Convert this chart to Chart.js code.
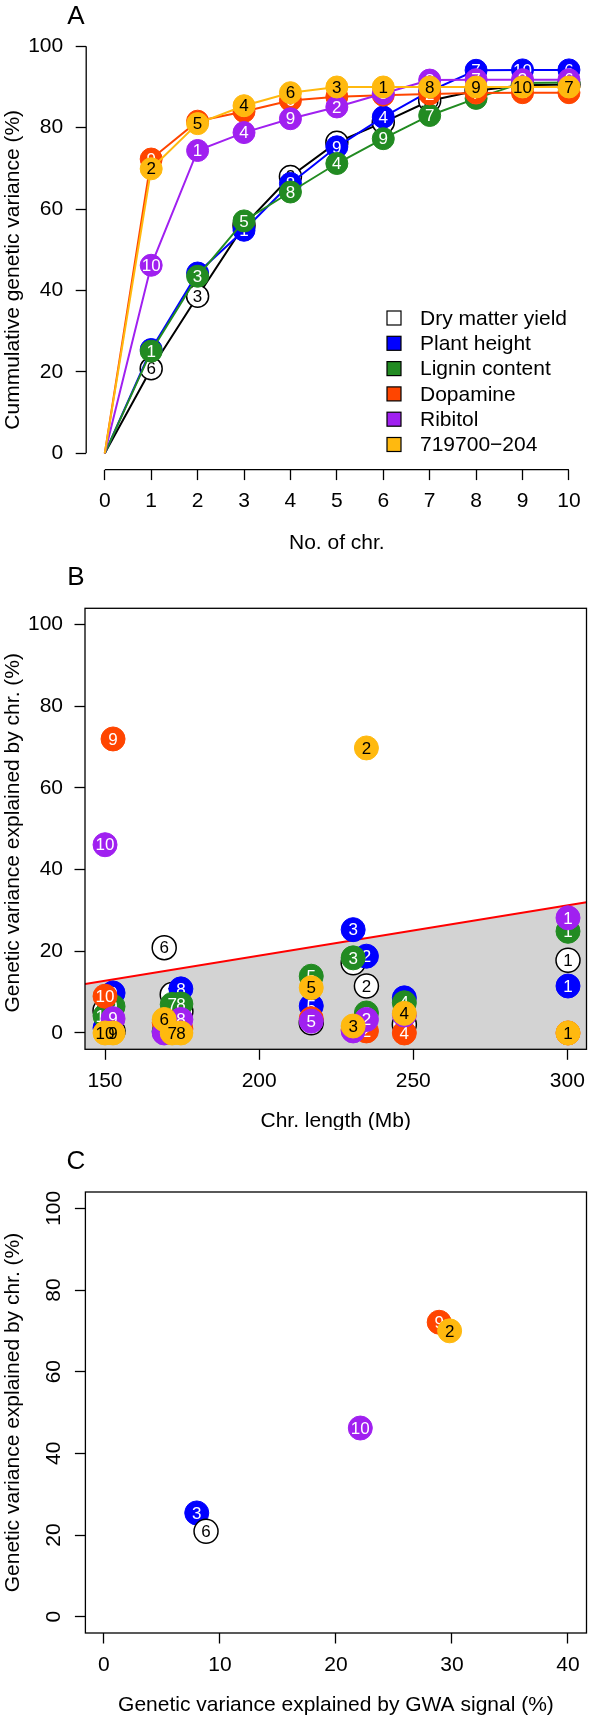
<!DOCTYPE html>
<html>
<head>
<meta charset="utf-8">
<script src="https://cdn.jsdelivr.net/npm/chart.js@4.4.1/dist/chart.umd.min.js"></script>
<style>
  html, body { margin: 0; padding: 0; background: #fff; }
  #wrap { position: relative; width: 600px; height: 1729px; }
  canvas { position: absolute; left: 0; }
</style>
</head>
<body>
<div id="wrap">
  <canvas id="chartA" width="600" height="565" style="top:0px"></canvas>
  <canvas id="chartB" width="600" height="565" style="top:565px"></canvas>
  <canvas id="chartC" width="600" height="599" style="top:1130px"></canvas>
</div>
<script>

// traits (legend order)
var traits = ["Dry matter yield", "Plant height", "Lignin content", "Dopamine", "Ribitol", "719700\u2212204"];

// panel A : cumulative genetic variance by number of chromosomes
var nChr = [0, 1, 2, 3, 4, 5, 6, 7, 8, 9, 10];
var cumDry      = [0, 20.8, 38.6, 56.0, 68.0, 76.4, 81.3, 86.6, 89.1, 90.4, 90.6];
var cumHeight   = [0, 25.5, 44.3, 54.8, 66.3, 75.3, 82.6, 89.0, 94.1, 94.2, 94.2];
var cumLignin   = [0, 25.1, 43.5, 57.1, 64.2, 71.2, 77.3, 83.0, 87.2, 91.0, 91.1];
var cumDopamine = [0, 72.3, 81.6, 84.0, 86.7, 87.6, 88.0, 88.3, 88.5, 88.6, 88.6];
var cumRibitol  = [0, 46.2, 74.4, 78.8, 82.2, 85.1, 88.4, 91.7, 91.8, 91.8, 91.8];
var cum719700   = [0, 69.9, 81.0, 85.4, 88.6, 90.0, 90.0, 90.0, 90.0, 90.0, 90.0];
// chromosome added at each step
var addDry      = [6, 3, 1, 2, 7, 8, 10, 5, 4, 9];
var addHeight   = [3, 2, 1, 8, 9, 4, 5, 7, 10, 6];
var addLignin   = [1, 3, 5, 8, 4, 9, 7, 2, 10, 6];
var addDopamine = [9, 10, 5, 6, 8, 3, 2, 7, 1, 4];
var addRibitol  = [10, 1, 4, 9, 2, 5, 8, 7, 3, 6];
var add719700   = [2, 5, 4, 6, 3, 1, 8, 9, 10, 7];

// panel B : variance explained by each chromosome vs its length
var chrNames  = [1, 2, 3, 4, 5, 6, 7, 8, 9, 10];
var chrLength = [300.2, 234.8, 230.5, 247.1, 216.9, 169.2, 171.8, 174.6, 152.6, 150.0];
var chrDry      = [17.8, 11.5, 17.2, 2.1, 2.5, 20.9, 9.4, 5.3, 0.5, 5.5];
var chrHeight   = [11.5, 18.8, 25.3, 8.6, 6.6, 0.3, 5.0, 10.8, 9.8, 1.2];
var chrLignin   = [24.9, 4.9, 18.4, 7.4, 13.9, 0.5, 7.0, 7.1, 6.5, 4.2];
var chrDopamine = [0.0, 0.5, 0.8, 0.0, 3.5, 2.5, 0.3, 1.0, 72.0, 9.0];
var chrRibitol  = [28.2, 3.3, 0.5, 4.4, 2.9, 0.0, 0.3, 3.3, 3.5, 46.1];
var chr719700   = [0.0, 69.8, 1.7, 4.8, 11.1, 3.3, 0.0, 0.0, 0.0, 0.0];
var lineLength = [143.5, 306.2];
var lineVar    = [12.0, 32.0];

// panel C : GWA signal vs chromosome
var gwaTrait  = [1, 0, 4, 3, 5];
var gwaChr    = [3, 6, 10, 9, 2];
var gwaSignal = [8.0, 8.8, 22.1, 28.9, 29.8];
var gwaChrVar = [25.4, 20.9, 46.2, 72.1, 70.0];

var varTicks = [0, 20, 40, 60, 80, 100];

// styles
var fills = ["#FFFFFF", "#0000FF", "#228B22", "#FF4500", "#A020F0", "#FFB90F"];
var edges = ["#000000", "#0000FF", "#228B22", "#FF4500", "#A020F0", "#FFB90F"];
var textCols = ["#000000", "#FFFFFF", "#FFFFFF", "#FFFFFF", "#FFFFFF", "#000000"];
var FONT = "'Liberation Sans', Arial, sans-serif";

Chart.defaults.font.family = FONT;
Chart.defaults.font.size = 21;
Chart.defaults.color = "#000";
Chart.defaults.animation = false;

var chrLabelPlugin = {
	id: 'chrLabels',
	afterDatasetDraw: function(chart, args) {
		var ds = chart.data.datasets[args.index];
		if (!ds.chrLabels) return;
		var ctx = chart.ctx;
		ctx.save();
		ctx.font = "17px " + FONT;
		ctx.fillStyle = ds.labelColor;
		ctx.textAlign = 'center';
		ctx.textBaseline = 'middle';
		args.meta.data.forEach(function(pt, i) {
			var t = ds.chrLabels[i];
			if (t === '' || t == null) return;
			ctx.fillText(String(t), pt.x, pt.y + 1);
		});
		ctx.restore();
	}
};

var decorPlugin = {
	id: 'decor',
	afterDraw: function(chart, args, o) {
		var ctx = chart.ctx, a = chart.chartArea;
		var xs = chart.scales.x, ys = chart.scales.y;
		ctx.save();
		ctx.strokeStyle = '#000';
		ctx.lineWidth = 1.3;
		if (o.box) {
			ctx.strokeRect(a.left, a.top, a.right - a.left, a.bottom - a.top);
		}
		if (o.axisLines) {
			ctx.beginPath();
			ctx.moveTo(xs.getPixelForValue(o.xFrom), a.bottom);
			ctx.lineTo(xs.getPixelForValue(o.xTo), a.bottom);
			ctx.moveTo(a.left, ys.getPixelForValue(o.yFrom));
			ctx.lineTo(a.left, ys.getPixelForValue(o.yTo));
			ctx.stroke();
		}
		ctx.fillStyle = '#000';
		ctx.textAlign = 'center';
		ctx.textBaseline = 'middle';
		ctx.font = "21px " + FONT;
		// rotated y tick labels (R style, las = 0)
		if (o.rotatedY) {
			ys.ticks.forEach(function(tk) {
				ctx.save();
				ctx.translate(o.rotatedX, ys.getPixelForValue(tk.value));
				ctx.rotate(-Math.PI / 2);
				ctx.fillText(String(tk.value), 0, 1);
				ctx.restore();
			});
		}
		ctx.font = "26px " + FONT;
		ctx.fillText(o.letter, 76, o.letterY);
		ctx.font = "21px " + FONT;
		ctx.fillText(o.xTitle, (a.left + a.right) / 2, o.xTitleY);
		ctx.save();
		ctx.translate(13.5, (a.top + a.bottom) / 2 + o.yTitleShift);
		ctx.rotate(-Math.PI / 2);
		ctx.fillText(o.yTitle, 0, 0);
		ctx.restore();
		if (o.legend) {
			ctx.textAlign = 'left';
			for (var i = 0; i < traits.length; i++) {
				var y = o.legendY + i * 25.3;
				ctx.fillStyle = fills[i];
				ctx.fillRect(387, y - 7, 14, 14);
				ctx.lineWidth = 1.2;
				ctx.strokeRect(387, y - 7, 14, 14);
				ctx.fillStyle = '#000';
				ctx.fillText(traits[i], 420, y + 1);
			}
		}
		ctx.restore();
	}
};

function makeScale(min, max, tickValues, size, isY, pad, hideLabels) {
	return {
		type: 'linear',
		min: min,
		max: max,
		bounds: 'data',
		afterBuildTicks: function(s) {
			s.ticks = tickValues.map(function(v) { return {value: v}; });
		},
		afterFit: function(s) {
			if (isY) s.width = size; else s.height = size;
		},
		grid: { drawOnChartArea: false, drawTicks: true, tickLength: 10.5, tickColor: '#000', tickWidth: 1.3 },
		border: { display: false },
		ticks: {
			color: hideLabels ? 'rgba(0,0,0,0)' : '#000',
			padding: pad, autoSkip: false, minRotation: 0, maxRotation: 0,
			callback: function(v) { return String(v); }
		}
	};
}

function baseOptions(xScale, yScale, padding, decor) {
	return {
		responsive: false,
		animation: false,
		layout: { padding: padding },
		plugins: { legend: { display: false }, tooltip: { enabled: false }, decor: decor },
		events: [],
		scales: { x: xScale, y: yScale }
	};
}

// ---------- panel A ----------
var cumSeries = [cumDry, cumHeight, cumLignin, cumDopamine, cumRibitol, cum719700];
var cumAdded = [addDry, addHeight, addLignin, addDopamine, addRibitol, add719700];

var datasetsA = cumSeries.map(function(vals, t) {
	return {
		data: vals.map(function(v, i) { return {x: nChr[i], y: v}; }),
		showLine: true,
		borderColor: edges[t],
		borderWidth: 2,
		pointRadius: function(c) { return c.dataIndex === 0 ? 0 : 11; },
		pointBackgroundColor: fills[t],
		pointBorderColor: edges[t],
		pointBorderWidth: t === 0 ? 1.5 : 1,
		chrLabels: [''].concat(cumAdded[t]),
		labelColor: textCols[t],
		order: 5 - t
	};
});

new Chart(document.getElementById('chartA'), {
	type: 'scatter',
	data: { datasets: datasetsA },
	options: baseOptions(
		makeScale(-0.4, 10.4, nChr, 95.4, false, 9),
		makeScale(-4, 104, varTicks, 86.2, true, 12.5),
		{ left: 0, right: 11.2, top: 30, bottom: 0 },
		{ letter: 'A', letterY: 17, xTitle: 'No. of chr.', xTitleY: 543.5,
		  yTitle: 'Cummulative genetic variance (%)', yTitleShift: 20, axisLines: true,
		  xFrom: 0, xTo: 10, yFrom: 0, yTo: 100, legend: true, legendY: 318 }
	),
	plugins: [chrLabelPlugin, decorPlugin]
});

// ---------- panel B ----------
var chrSeries = [chrDry, chrHeight, chrLignin, chrDopamine, chrRibitol, chr719700];

var datasetsB = chrSeries.map(function(vals, t) {
	return {
		data: vals.map(function(v, i) { return {x: chrLength[i], y: v}; }),
		pointRadius: 12,
		pointBackgroundColor: fills[t],
		pointBorderColor: edges[t],
		pointBorderWidth: t === 0 ? 1.5 : 1,
		chrLabels: chrNames,
		labelColor: textCols[t],
		order: 5 - t
	};
});
datasetsB.push({
	type: 'line',
	data: lineLength.map(function(x, i) { return {x: x, y: lineVar[i]}; }),
	borderColor: '#FF0000',
	borderWidth: 2,
	backgroundColor: '#D3D3D3',
	fill: 'start',
	pointRadius: 0,
	order: 10
});

new Chart(document.getElementById('chartB'), {
	type: 'scatter',
	data: { datasets: datasetsB },
	options: baseOptions(
		makeScale(143.5, 306.2, [150, 200, 250, 300], 80.7, false, 9),
		makeScale(-4, 104, varTicks, 85, true, 11.5),
		{ left: 0, right: 10.7, top: 43.3, bottom: 0 },
		{ letter: 'B', letterY: 13.3, xTitle: 'Chr. length (Mb)', xTitleY: 556.7,
		  yTitle: 'Genetic variance explained by chr. (%)', yTitleShift: 4, box: true }
	),
	plugins: [chrLabelPlugin, decorPlugin]
});

// ---------- panel C ----------
var drawRankC = [0, 1, 2, 3, 4];
var datasetsC = gwaTrait.map(function(t, k) {
	return {
		data: [{x: gwaSignal[k], y: gwaChrVar[k]}],
		pointRadius: 12,
		pointBackgroundColor: fills[t],
		pointBorderColor: edges[t],
		pointBorderWidth: t === 0 ? 1.5 : 1,
		chrLabels: [gwaChr[k]],
		labelColor: textCols[t],
		order: 5 - drawRankC[k]
	};
});

new Chart(document.getElementById('chartC'), {
	type: 'scatter',
	data: { datasets: datasetsC },
	options: baseOptions(
		makeScale(-1.6, 41.6, [0, 10, 20, 30, 40], 96, false, 9),
		makeScale(-4, 104, varTicks, 85.4, true, 12, true),
		{ left: 0, right: 10.2, top: 62, bottom: 0 },
		{ letter: 'C', letterY: 31.7, xTitle: 'Genetic variance explained by GWA signal (%)', xTitleY: 575,
		  yTitle: 'Genetic variance explained by chr. (%)', yTitleShift: 0, box: true,
		  rotatedY: true, rotatedX: 53.6 }
	),
	plugins: [chrLabelPlugin, decorPlugin]
});
</script>
</body>
</html>
